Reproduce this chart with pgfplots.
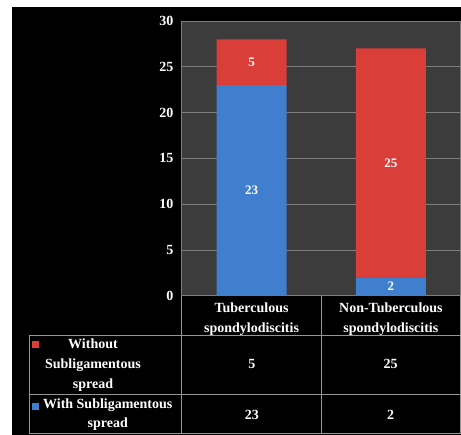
\documentclass[border=0pt]{standalone}
\usepackage{pgfplots}
\pgfplotsset{compat=1.18}
\usepackage{fontspec}
\setmainfont{Liberation Serif}
\definecolor{plotbg}{RGB}{60,60,60}
\definecolor{gridcol}{RGB}{125,125,125}
\definecolor{barred}{RGB}{218,62,56}
\definecolor{barblue}{RGB}{64,126,206}
\definecolor{tabline}{RGB}{150,150,150}
\newcommand{\tf}{\bfseries\fontsize{14}{20}\selectfont}
\begin{document}
\begin{tikzpicture}[x=1pt,y=1pt]
\fill[white] (0,0) rectangle (461,435);
\fill[black] (12,0) rectangle (461,428);
\begin{axis}[
  at={(182pt,139pt)}, anchor=south west,
  width=279pt, height=275pt, scale only axis,
  ybar stacked, bar width=70pt,
  xmin=-0.5, xmax=1.5, ymin=0, ymax=30,
  ytick={0,5,...,30}, xtick={0,1},
  xticklabels={{Tuberculous\\spondylodiscitis},{Non-Tuberculous\\spondylodiscitis}},
  major tick length=0,
  axis background/.style={fill=plotbg},
  axis line style={draw=gridcol, line width=0.8pt},
  ymajorgrids, grid style={draw=gridcol, line width=0.8pt},
  tick label style={font=\tf, text=white},
  /pgf/number format/assume math mode=true,
  yticklabel style={xshift=-5pt},
  xticklabel style={align=center, anchor=center, yshift=-23pt},
  clip=false,
  point meta=explicit symbolic,
  nodes near coords,
  every node near coord/.append style={anchor=center, text=white, font=\bfseries\fontsize{13}{15}\selectfont},
]
\addplot[fill=barblue, draw=none] coordinates {(0,23) [23] (1,2) [2]};
\addplot[fill=barred, draw=none] coordinates {(0,5) [5] (1,25) [25]};
\end{axis}
% data table grid
\begin{scope}[draw=tabline, line width=0.8pt]
\draw (29,99) -- (461,99);
\draw (29,40) -- (461,40);
\draw (29,1) -- (461,1);
\draw (29,1) -- (29,99);
\draw (182,1) -- (182,139);
\draw (322,1) -- (322,139);
\draw (460.5,1) -- (460.5,139);
\end{scope}
\fill[barred] (32,87) rectangle (39,94);
\fill[barblue] (32,25) rectangle (39,32);
\node[anchor=west, align=center, text=white, font=\tf, inner sep=0pt] at (45,70) {Without\\Subligamentous\\spread};
\node[anchor=west, align=center, text=white, font=\tf, inner sep=0pt] at (43,20) {With Subligamentous\\spread};
\node[text=white, font=\tf] at (252,71) {5};
\node[text=white, font=\tf] at (391,71) {25};
\node[text=white, font=\tf] at (252,20) {23};
\node[text=white, font=\tf] at (391,20) {2};
\end{tikzpicture}
\end{document}
